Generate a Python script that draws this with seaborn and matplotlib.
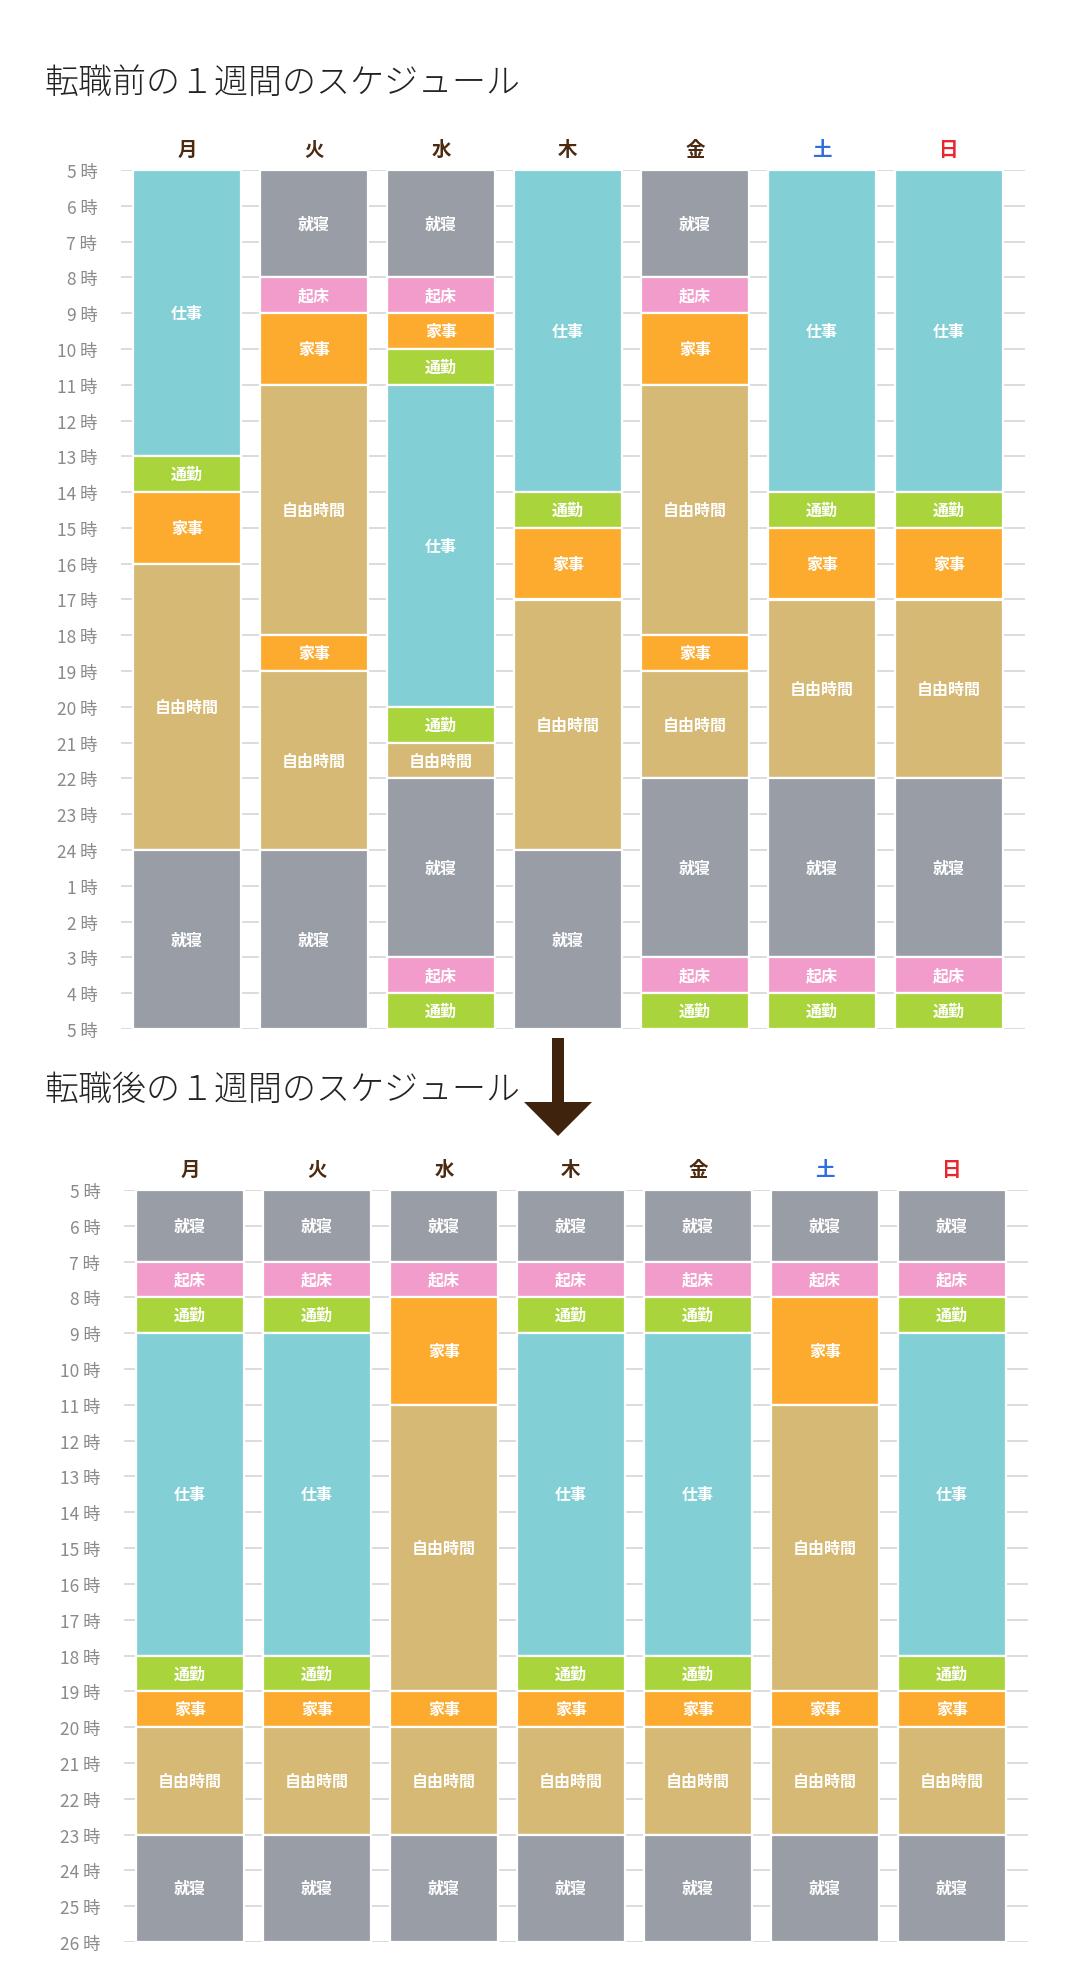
import matplotlib
matplotlib.use("Agg", force=True)
import matplotlib.pyplot as plt
from matplotlib.patches import Polygon
import pandas as pd
import seaborn as sns

W, H = 1077, 1974

DAYS = ["月", "火", "水", "木", "金", "土", "日"]
DAY_COLORS = ["#4b2a10", "#4b2a10", "#4b2a10", "#4b2a10", "#4b2a10", "#2f6de0", "#e8262e"]

ACTIVITY_COLORS = {
    "仕事": "#82cfd6",
    "就寝": "#989da6",
    "起床": "#f29ccb",
    "家事": "#fdab2f",
    "通勤": "#aad43c",
    "自由時間": "#d6b974",
}

# (activity, hours) from 5時 onward
BEFORE_MON = [("仕事", 8), ("通勤", 1), ("家事", 2), ("自由時間", 8), ("就寝", 5)]
BEFORE_TUE = [("就寝", 3), ("起床", 1), ("家事", 2), ("自由時間", 7), ("家事", 1), ("自由時間", 5), ("就寝", 5)]
BEFORE_WED = [("就寝", 3), ("起床", 1), ("家事", 1), ("通勤", 1), ("仕事", 9), ("通勤", 1), ("自由時間", 1),
              ("就寝", 5), ("起床", 1), ("通勤", 1)]
BEFORE_THU = [("仕事", 9), ("通勤", 1), ("家事", 2), ("自由時間", 7), ("就寝", 5)]
BEFORE_FRI = [("就寝", 3), ("起床", 1), ("家事", 2), ("自由時間", 7), ("家事", 1), ("自由時間", 3),
              ("就寝", 5), ("起床", 1), ("通勤", 1)]
BEFORE_SAT = [("仕事", 9), ("通勤", 1), ("家事", 2), ("自由時間", 5), ("就寝", 5), ("起床", 1), ("通勤", 1)]
BEFORE_SUN = [("仕事", 9), ("通勤", 1), ("家事", 2), ("自由時間", 5), ("就寝", 5), ("起床", 1), ("通勤", 1)]

AFTER_MON = [("就寝", 2), ("起床", 1), ("通勤", 1), ("仕事", 9), ("通勤", 1), ("家事", 1), ("自由時間", 3), ("就寝", 3)]
AFTER_TUE = [("就寝", 2), ("起床", 1), ("通勤", 1), ("仕事", 9), ("通勤", 1), ("家事", 1), ("自由時間", 3), ("就寝", 3)]
AFTER_WED = [("就寝", 2), ("起床", 1), ("家事", 3), ("自由時間", 8), ("家事", 1), ("自由時間", 3), ("就寝", 3)]
AFTER_THU = [("就寝", 2), ("起床", 1), ("通勤", 1), ("仕事", 9), ("通勤", 1), ("家事", 1), ("自由時間", 3), ("就寝", 3)]
AFTER_FRI = [("就寝", 2), ("起床", 1), ("通勤", 1), ("仕事", 9), ("通勤", 1), ("家事", 1), ("自由時間", 3), ("就寝", 3)]
AFTER_SAT = [("就寝", 2), ("起床", 1), ("家事", 3), ("自由時間", 8), ("家事", 1), ("自由時間", 3), ("就寝", 3)]
AFTER_SUN = [("就寝", 2), ("起床", 1), ("通勤", 1), ("仕事", 9), ("通勤", 1), ("家事", 1), ("自由時間", 3), ("就寝", 3)]

BEFORE_HOURS = ["5", "6", "7", "8", "9", "10", "11", "12", "13", "14", "15", "16", "17", "18", "19",
                "20", "21", "22", "23", "24", "1", "2", "3", "4", "5"]
AFTER_HOURS = ["5", "6", "7", "8", "9", "10", "11", "12", "13", "14", "15", "16", "17", "18", "19",
               "20", "21", "22", "23", "24", "25", "26"]

BEFORE_TITLE = "転職前の１週間のスケジュール"
AFTER_TITLE = "転職後の１週間のスケジュール"
START_HOUR = 5


def build_frame(week):
    rows = []
    for pos, (day, segments) in enumerate(zip(DAYS, week)):
        start = START_HOUR
        for activity, hours in segments:
            rows.append({"day": day, "pos": pos, "activity": activity, "start": start, "hours": hours})
            start += hours
    return pd.DataFrame(rows)


def draw_week(ax, week, hour_labels):
    frame = build_frame(week)
    end_hour = START_HOUR + len(hour_labels) - 1
    ax.bar(
        frame["pos"],
        frame["hours"],
        bottom=frame["start"],
        width=0.85,
        color=frame["activity"].map(ACTIVITY_COLORS),
        edgecolor="white",
        linewidth=1.6,
        zorder=2,
    )
    for row in frame.itertuples():
        ax.text(row.pos, row.start + row.hours / 2, row.activity, ha="center", va="center",
                color="white", fontsize=11.5, fontweight="bold", zorder=3)

    ax.set_xlim(-0.52, 6.6)
    ax.set_ylim(end_hour, START_HOUR)
    ax.set_yticks(range(START_HOUR, end_hour + 1))
    ax.set_yticklabels([f"{h} 時" for h in hour_labels], color="#8a8a8a", fontsize=12.5)
    ax.xaxis.tick_top()
    ax.set_xticks(range(len(DAYS)))
    ax.set_xticklabels(DAYS, fontsize=14, fontweight="bold")
    for tick, color in zip(ax.xaxis.get_major_ticks(), DAY_COLORS):
        tick.label1.set_color(color)
        tick.label2.set_color(color)
    ax.tick_params(axis="y", length=0, pad=17)
    ax.tick_params(axis="x", length=0, pad=8)
    ax.grid(axis="y", color="#dcdcdc", linewidth=1.4, zorder=0)
    ax.grid(axis="x", visible=False)
    ax.set_axisbelow(True)
    sns.despine(ax=ax, left=True, bottom=True, top=True, right=True)
    ax.set_xlabel("")
    ax.set_ylabel("")


sns.set_style("white")
plt.rcParams["font.family"] = ["Noto Sans CJK JP", "DejaVu Sans"]

fig = plt.figure(figsize=(W / 100, H / 100), dpi=100)

ax_top = fig.add_axes([121 / W, 1 - 1030 / H, (1025 - 121) / W, (1030 - 171) / H])
draw_week(ax_top, [BEFORE_MON, BEFORE_TUE, BEFORE_WED, BEFORE_THU, BEFORE_FRI, BEFORE_SAT, BEFORE_SUN],
          BEFORE_HOURS)

ax_bottom = fig.add_axes([124 / W, 1 - 1943 / H, (1028 - 124) / W, (1943 - 1191) / H])
draw_week(ax_bottom, [AFTER_MON, AFTER_TUE, AFTER_WED, AFTER_THU, AFTER_FRI, AFTER_SAT, AFTER_SUN],
          AFTER_HOURS)

fig.text(44 / W, 1 - 83 / H, BEFORE_TITLE, ha="left", va="center", fontsize=24.5,
         fontweight="light", color="#222222")
fig.text(44 / W, 1 - 1090 / H, AFTER_TITLE, ha="left", va="center", fontsize=24.5,
         fontweight="light", color="#222222")

arrow_px = [(552, 1039), (564, 1039), (564, 1103), (592, 1103), (558, 1137), (524, 1103), (552, 1103)]
fig.add_artist(Polygon([(x / W, 1 - y / H) for x, y in arrow_px], closed=True,
                       facecolor="#40230d", edgecolor="none", transform=fig.transFigure))

fig.savefig("out.png", dpi=100)
plt.close(fig)
